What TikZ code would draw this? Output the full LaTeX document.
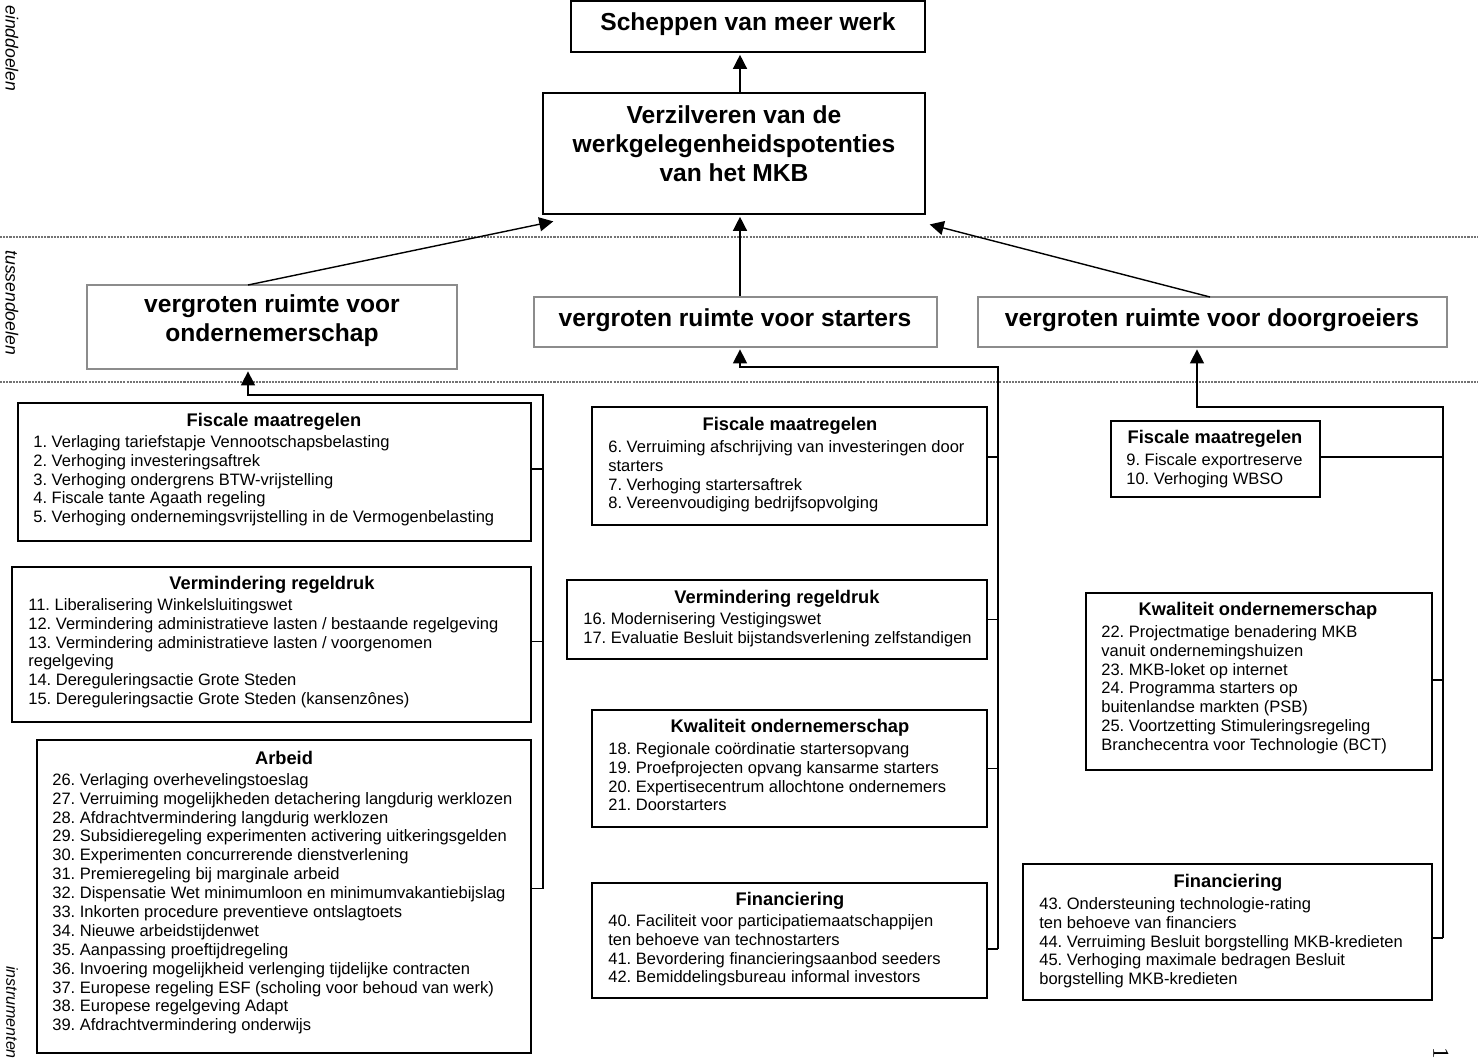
\documentclass[tikz,border=0pt]{standalone}
\usepackage{fontspec}
\setmainfont{Liberation Sans}
\newfontfamily\pgnumfont{Liberation Serif}
\usetikzlibrary{arrows.meta,fit}
\frenchspacing
\begin{document}
\begin{tikzpicture}[x=0.02cm,y=-0.02cm]
\tikzset{
 goalbox/.style={draw, line width=1.2pt, inner sep=0},
 midbox/.style={draw=black!45, line width=0.7pt, inner sep=0},
 instbox/.style={draw, line width=0.8pt, inner sep=0},
 bigtxt/.style={font=\fontsize{14}{16.5}\selectfont\bfseries, align=center, inner sep=0},
 ttl/.style={font=\fontsize{10.4}{12}\selectfont\bfseries, inner sep=0},
 items/.style={font=\fontsize{9.4}{10.75}\selectfont, align=left, inner sep=0, anchor=north west},
 conn/.style={line width=0.8pt},
 arr/.style={conn, -{Triangle[length=8pt,width=8pt]}, shorten >=1pt},
 lvl/.style={font=\fontsize{10}{12}\selectfont\itshape, rotate=-90, inner sep=0},
 sepline/.style={draw=black!55, line width=0.6pt, dash pattern=on 1.2pt off 0.6pt}
}
\useasboundingbox (0,0) rectangle (1478,1059);

% level separators and labels
\draw[sepline] (0,237) -- (1478,237);
\draw[sepline] (0,382) -- (1478,382);
\node[lvl, anchor=west] (lv1) at (12,5) {einddoelen};
\node[lvl, anchor=west] (lv2) at (12,250) {tussendoelen};
\node[lvl, anchor=west, font=\fontsize{9.1}{11}\selectfont\itshape] (lv3) at (12,966) {instrumenten};
\node[font=\fontsize{13}{13}\selectfont\pgnumfont, rotate=-90, inner sep=0] (pg) at (1441,1053) {1};

% goals
\node[goalbox, fit={(571,1) (925,52)}] (g1) {};
\node[bigtxt] (g1t) at (748,24) {Scheppen van meer werk};
\node[goalbox, fit={(543,93) (925,214)}] (g2) {};
\node[bigtxt] (g2t) at (734,144) {Verzilveren van de\\werkgelegenheidspotenties\\van het MKB};

% intermediate goals
\node[midbox, fit={(87,285) (457,369)}] (ond) {};
\node[bigtxt] (ondt) at (272,321) {vergroten ruimte voor\\ondernemerschap};
\node[midbox, fit={(534,297) (937,347)}] (st) {};
\node[bigtxt] (stt) at (735,320) {vergroten ruimte voor starters};
\node[midbox, fit={(978,297) (1447,347)}] (dg) {};
\node[bigtxt] (dgt) at (1212,320) {vergroten ruimte voor doorgroeiers};

% arrows between goals
\coordinate (c740) at (740,0);
\draw[arr] (c740 |- g2.north) -- (c740 |- g1.south);
\coordinate (ondTop) at (248,285);
\coordinate (tipL) at (555,221);
\draw[arr] (ondTop) -- (tipL);
\draw[arr] (c740 |- st.north) -- (c740 |- g2.south);
\coordinate (dgTop) at (1210,297);
\coordinate (tipR) at (928,224);
\draw[arr] (dgTop) -- (tipR);

% ---------- left column ----------
\node[instbox, fit={(18,403) (531,541)}] (fisL) {};
\node[ttl] (fisLt) at (274,422) {Fiscale maatregelen};
\node[items] (fisLi) at (33,435) {1. Verlaging tariefstapje Vennootschapsbelasting\\
2. Verhoging investeringsaftrek\\
3. Verhoging ondergrens BTW-vrijstelling\\
4. Fiscale tante Agaath regeling\\
5. Verhoging ondernemingsvrijstelling in de Vermogenbelasting};

\node[instbox, fit={(12,567) (531,722)}] (verL) {};
\node[ttl] (verLt) at (272,585) {Vermindering regeldruk};
\node[items] (verLi) at (28,598) {11. Liberalisering Winkelsluitingswet\\
12. Vermindering administratieve lasten / bestaande regelgeving\\
13. Vermindering administratieve lasten / voorgenomen\\
regelgeving\\
14. Dereguleringsactie Grote Steden\\
15. Dereguleringsactie Grote Steden (kansenzônes)};

\node[instbox, fit={(37,740) (531,1053)}] (arb) {};
\node[ttl] (arbt) at (284,758) {Arbeid};
\node[items] (arbi) at (52,773) {26. Verlaging overhevelingstoeslag\\
27. Verruiming mogelijkheden detachering langdurig werklozen\\
28. Afdrachtvermindering langdurig werklozen\\
29. Subsidieregeling experimenten activering uitkeringsgelden\\
30. Experimenten concurrerende dienstverlening\\
31. Premieregeling bij marginale arbeid\\
32. Dispensatie Wet minimumloon en minimumvakantiebijslag\\
33. Inkorten procedure preventieve ontslagtoets\\
34. Nieuwe arbeidstijdenwet\\
35. Aanpassing proeftijdregeling\\
36. Invoering mogelijkheid verlenging tijdelijke contracten\\
37. Europese regeling ESF (scholing voor behoud van werk)\\
38. Europese regelgeving Adapt\\
39. Afdrachtvermindering onderwijs};

\coordinate (bL) at (543,395);
\coordinate (aL) at (248,395);
\draw[conn] ([yshift=0.06cm]fisL.east) coordinate (eL1) -- (eL1 -| bL);
\draw[conn] ([yshift=0.06cm]verL.east) coordinate (eL2) -- (eL2 -| bL);
\draw[conn] ([yshift=0.16cm]arb.east) coordinate (eL3) -- (eL3 -| bL);
\draw[arr] (eL3 -| bL) -- (bL) -- (aL) -- (aL |- ond.south);

% ---------- middle column ----------
\node[instbox, fit={(592,407) (987,525)}] (fisM) {};
\node[ttl] (fisMt) at (790,426) {Fiscale maatregelen};
\node[items] (fisMi) at (608,440) {6. Verruiming afschrijving van investeringen door\\
starters\\
7. Verhoging startersaftrek\\
8. Vereenvoudiging bedrijfsopvolging};

\node[instbox, fit={(567,580) (987,659)}] (verM) {};
\node[ttl] (verMt) at (777,599) {Vermindering regeldruk};
\node[items] (verMi) at (583,612) {16. Modernisering Vestigingswet\\
17. Evaluatie Besluit bijstandsverlening zelfstandigen};

\node[instbox, fit={(592,710) (987,827)}] (kwaM) {};
\node[ttl] (kwaMt) at (790,728) {Kwaliteit ondernemerschap};
\node[items] (kwaMi) at (608,742) {18. Regionale coördinatie startersopvang\\
19. Proefprojecten opvang kansarme starters\\
20. Expertisecentrum allochtone ondernemers\\
21. Doorstarters};

\node[instbox, fit={(592,883) (987,998)}] (finM) {};
\node[ttl] (finMt) at (790,901) {Financiering};
\node[items] (finMi) at (608,914) {40. Faciliteit voor participatiemaatschappijen\\
ten behoeve van technostarters\\
41. Bevordering financieringsaanbod seeders\\
42. Bemiddelingsbureau informal investors};

\coordinate (bM) at (998,367);
\coordinate (aM) at (740,367);
\draw[conn] ([yshift=0.18cm]fisM.east) coordinate (eM1) -- (eM1 -| bM);
\draw[conn] (verM.east) coordinate (eM2) -- (eM2 -| bM);
\draw[conn] (kwaM.east) coordinate (eM3) -- (eM3 -| bM);
\draw[conn] ([yshift=-0.17cm]finM.east) coordinate (eM4) -- (eM4 -| bM);
\draw[arr] (eM4 -| bM) -- (bM) -- (aM) -- (aM |- st.south);

% ---------- right column ----------
\node[instbox, fit={(1111,421) (1320,497)}] (fisR) {};
\node[ttl] (fisRt) at (1215,439) {Fiscale maatregelen};
\node[items] (fisRi) at (1126,453) {9. Fiscale exportreserve\\
10. Verhoging WBSO};

\node[instbox, fit={(1086,593) (1432,770)}] (kwaR) {};
\node[ttl] (kwaRt) at (1258,611) {Kwaliteit ondernemerschap};
\node[items] (kwaRi) at (1101,625) {22. Projectmatige benadering MKB\\
vanuit ondernemingshuizen\\
23. MKB-loket op internet\\
24. Programma starters op\\
buitenlandse markten (PSB)\\
25. Voortzetting Stimuleringsregeling\\
Branchecentra voor Technologie (BCT)};

\node[instbox, fit={(1023,864) (1432,1000)}] (finR) {};
\node[ttl] (finRt) at (1228,883) {Financiering};
\node[items] (finRi) at (1039,897) {43. Ondersteuning technologie-rating\\
ten behoeve van financiers\\
44. Verruiming Besluit borgstelling MKB-kredieten\\
45. Verhoging maximale bedragen Besluit\\
borgstelling MKB-kredieten};

\coordinate (bR) at (1443,407);
\coordinate (aR) at (1197,407);
\draw[conn] ([yshift=0.04cm]fisR.east) coordinate (eR1) -- (eR1 -| bR);
\draw[conn] ([yshift=0.03cm]kwaR.east) coordinate (eR2) -- (eR2 -| bR);
\draw[conn] ([yshift=-0.12cm]finR.east) coordinate (eR3) -- (eR3 -| bR);
\draw[arr] (eR3 -| bR) -- (bR) -- (aR) -- (aR |- dg.south);
\end{tikzpicture}
\end{document}
